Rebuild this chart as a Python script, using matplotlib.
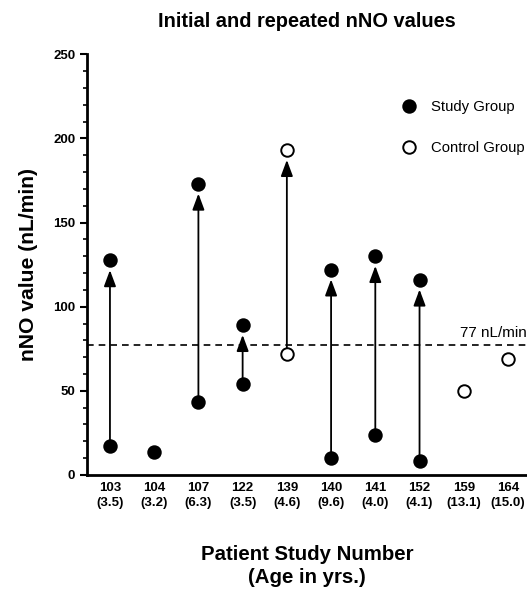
import numpy as np
import matplotlib.pyplot as plt
from matplotlib.ticker import MultipleLocator
from matplotlib.lines import Line2D

plt.rcParams['font.family'] = ['Liberation Sans', 'DejaVu Sans']

# Data
patients = ["103", "104", "107", "122", "139", "140", "141", "152", "159", "164"]
ages = ["3.5", "3.2", "6.3", "3.5", "4.6", "9.6", "4.0", "4.1", "13.1", "15.0"]
initial_nno = [17, 13.5, 43.5, 54, 72, 10, 24, 8.5, 50, 69]
repeat_nno = [127.5, None, 173, 89, 193, 122, 130, 116, None, None]
group = ["study", "study", "study", "study", "control", "study", "study", "study", "control", "control"]
cutoff = 77

fig = plt.figure(figsize=(5.27, 5.90), dpi=100)
ax = fig.add_axes([0.165, 0.195, 0.835, 0.713])

x = np.arange(len(patients))

# Arrows from initial to repeated value
for xi, a, b in zip(x, initial_nno, repeat_nno):
    if b is None:
        continue
    ax.annotate("", xy=(xi, b), xytext=(xi, a),
                arrowprops=dict(arrowstyle="-|>,head_length=0.7,head_width=0.26",
                                color="black", lw=1.3,
                                shrinkA=0, shrinkB=7, mutation_scale=14))

# Points
for xi, a, b, g in zip(x, initial_nno, repeat_nno, group):
    face = "black" if g == "study" else "white"
    vals = [a] if b is None else [a, b]
    ax.plot([xi] * len(vals), vals, "o", ms=9, mfc=face, mec="black", mew=1.4,
            zorder=5, clip_on=False)

ax.axhline(cutoff, color="black", ls=(0, (4, 3)), lw=1.2, zorder=1)
ax.text(9.42, cutoff + 3, "77 nL/min", ha="right", va="bottom", fontsize=11)

ax.set_xlim(-0.52, 9.43)
ax.set_ylim(0, 250)
ax.set_xticks(x)
ax.set_xticklabels([f"{p}\n({a})" for p, a in zip(patients, ages)],
                   fontsize=9.5, fontweight="bold", linespacing=1.3)
ax.yaxis.set_major_locator(MultipleLocator(50))
ax.yaxis.set_minor_locator(MultipleLocator(10))
for lab in ax.get_yticklabels():
    lab.set_fontweight("bold")
ax.tick_params(axis="y", labelsize=9.5, width=1.5, length=5)
ax.tick_params(axis="y", which="minor", width=1.2, length=3)
ax.tick_params(axis="x", length=0, pad=5)

ax.spines["top"].set_visible(False)
ax.spines["right"].set_visible(False)
ax.spines["left"].set_linewidth(2)
ax.spines["bottom"].set_linewidth(2)

ax.set_title("Initial and repeated nNO values", fontsize=14.4, fontweight="bold", pad=20)
ax.set_ylabel("nNO value (nL/min)", fontsize=15.2, fontweight="bold", labelpad=11)
ax.set_xlabel("Patient Study Number\n(Age in yrs.)", fontsize=14.7, fontweight="bold",
              labelpad=26, linespacing=1.3)

handles = [
    Line2D([], [], marker="o", ls="none", ms=9, mfc="black", mec="black", mew=1.4),
    Line2D([], [], marker="o", ls="none", ms=9, mfc="white", mec="black", mew=1.4),
]
ax.legend(handles, ["Study Group", "Control Group"], loc="upper left",
          bbox_to_anchor=(0.685, 0.922), frameon=False, fontsize=10.7,
          labelspacing=1.8, handletextpad=0.95, handlelength=1.0)

fig.savefig("out.png", dpi=100)
